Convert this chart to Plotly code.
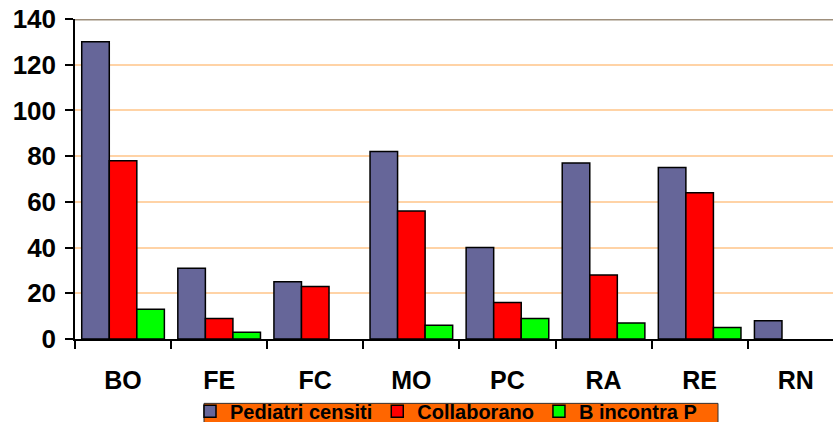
import plotly.graph_objects as go

categories = ["BO", "FE", "FC", "MO", "PC", "RA", "RE", "RN"]
pediatri_censiti = [130, 31, 25, 82, 40, 77, 75, 8]
collaborano = [78, 9, 23, 56, 16, 28, 64, None]
b_incontra_p = [13, 3, None, 6, 9, 7, 5, None]
series_names = ["Pediatri censiti", "Collaborano", "B incontra P"]
y_ticks = [0, 20, 40, 60, 80, 100, 120, 140]

colors = ["#666699", "#FF0000", "#00FF00"]
W, H = 833, 422
L = 75
T = 19
bottom_px = 338.7
B = H - bottom_px

fig = go.Figure()
for name, vals, col in zip(series_names, [pediatri_censiti, collaborano, b_incontra_p], colors):
    fig.add_trace(go.Bar(
        x=categories, y=vals, name=name,
        marker=dict(color=col, line=dict(color="#000000", width=1.5)),
    ))

plot_w = W - L
plot_h = bottom_px - T
cat_px = 96.1
x_max = -0.5 + plot_w / cat_px

font_family = "Liberation Sans, Arial, sans-serif"

def px_x(x):
    return (x - L) / plot_w

def px_y(y):
    return (bottom_px - y) / plot_h

fig.update_layout(
    width=W, height=H,
    margin=dict(l=L, r=0, t=T, b=B, autoexpand=False),
    paper_bgcolor="white", plot_bgcolor="white",
    barmode="group", bargap=0.14, bargroupgap=0,
    font=dict(family=font_family, color="black"),
    showlegend=True,
    legend=dict(
        orientation="h", x=px_x(190), xanchor="left",
        y=px_y(411), yanchor="middle",
        bgcolor="rgba(0,0,0,0)", borderwidth=0,
        font=dict(family=font_family, size=20, weight="bold", color="black"),
        itemwidth=30, traceorder="normal",
    ),
    xaxis=dict(
        range=[-0.5, x_max], showgrid=False,
        showline=True, linecolor="black", linewidth=1.5,
        ticks="outside", tickson="boundaries", ticklen=8, tickcolor="black", tickwidth=1.5,
        tickfont=dict(family=font_family, size=25, weight="bold", color="black"),
        ticklabelstandoff=18,
    ),
    yaxis=dict(
        range=[0, 140], tickvals=y_ticks,
        showgrid=True, gridcolor="#FFD3A6", gridwidth=1.5,
        showline=True, linecolor="black", linewidth=1.5,
        ticks="outside", ticklen=8, tickcolor="black", tickwidth=1.5,
        tickfont=dict(family=font_family, size=26, weight="bold", color="black"),
        ticklabelstandoff=4, zeroline=False,
    ),
)
# top border of plot area
fig.add_shape(type="line", xref="paper", yref="y", x0=0, x1=1, y0=139.8, y1=139.8,
              line=dict(color="#9E8F7C", width=2), layer="above")
# orange legend panel
fig.add_shape(type="rect", xref="paper", yref="paper",
              x0=px_x(204), x1=px_x(718), y0=px_y(440), y1=px_y(403),
              fillcolor="#FF6600", line=dict(color="#333333", width=1), layer="below")

fig.write_html("out.html", config={"displayModeBar": False},
               post_script="document.body.style.margin='0px';")
